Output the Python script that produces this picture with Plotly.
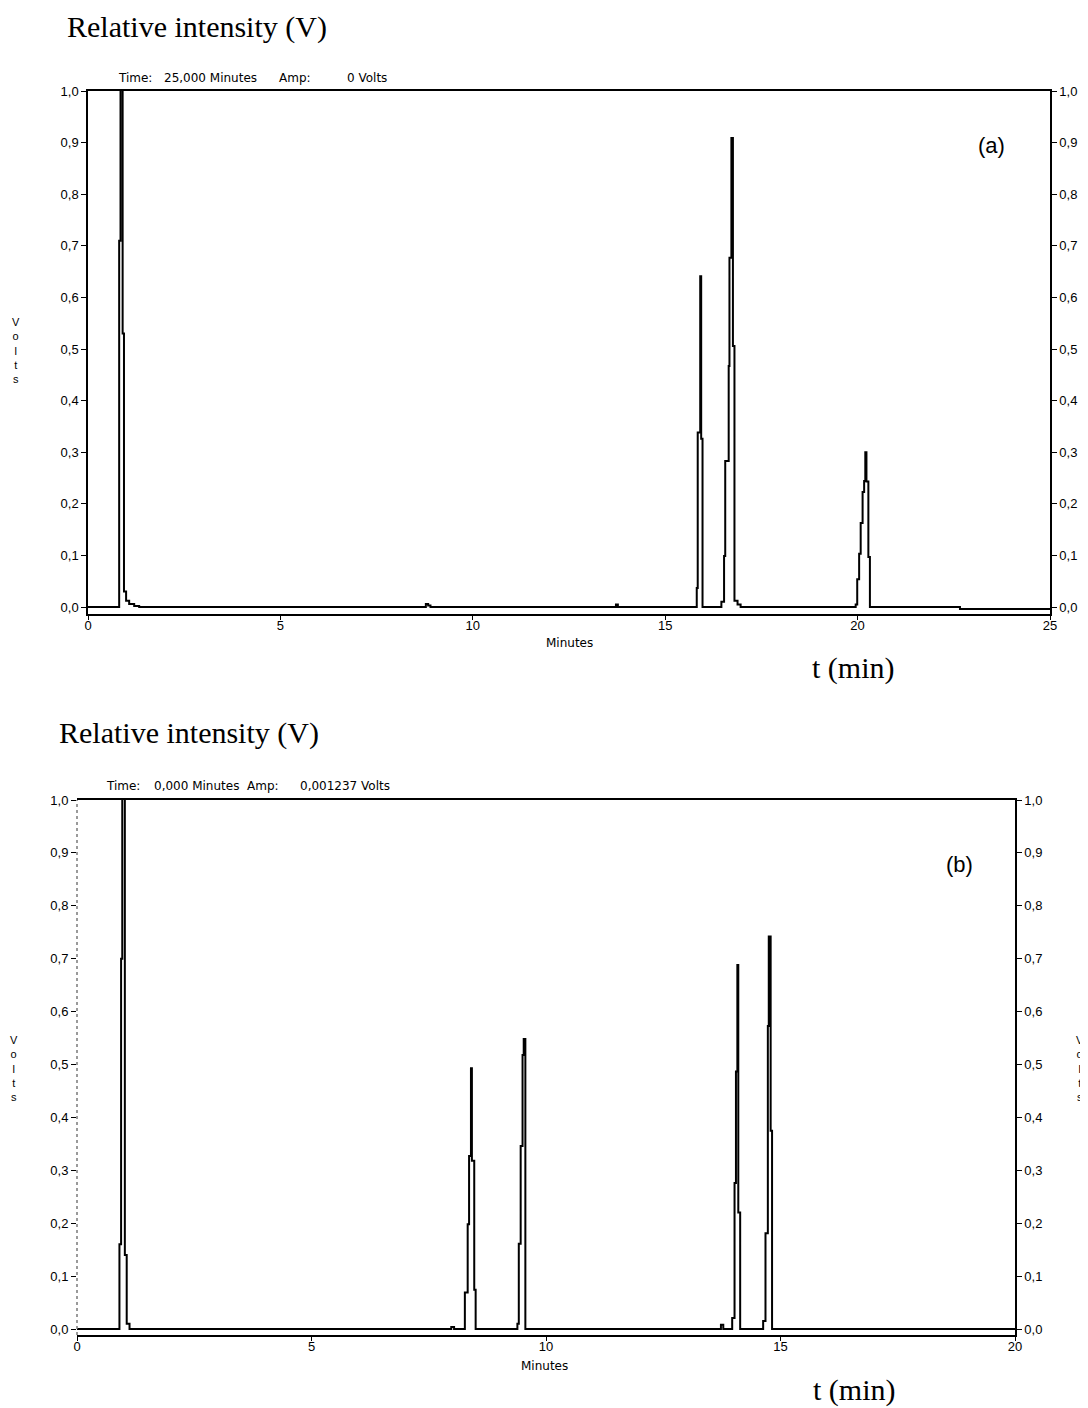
import plotly.graph_objects as go

W, H = 1088, 1408
OFF = 8  # the page body adds an 8px margin around the figure

# ---------------- data ----------------
# Chromatogram (a): time in minutes, detector signal in volts (step trace)
T_A = [0.0, 0.81, 0.845, 0.90, 0.935, 0.99, 1.07, 1.20, 1.33,
       8.78, 8.84, 8.90, 13.72, 13.77,
       15.82, 15.845, 15.91, 15.935, 15.97,
       16.46, 16.53, 16.56, 16.65, 16.67, 16.72, 16.76, 16.80, 16.88, 16.96,
       19.95, 19.99, 20.04, 20.08, 20.13, 20.17, 20.20, 20.23, 20.28, 20.32,
       22.66, 25.0]
V_A = [0.0, 0.71, 1.2, 0.53, 0.03, 0.012, 0.006, 0.002, 0.0,
       0.006, 0.003, 0.0, 0.005, 0.0,
       0.037, 0.338, 0.641, 0.326, 0.0,
       0.01, 0.099, 0.283, 0.467, 0.677, 0.909, 0.506, 0.012, 0.005, 0.0,
       0.005, 0.054, 0.103, 0.163, 0.223, 0.244, 0.300, 0.243, 0.097, 0.0,
       -0.004, -0.004]

# Chromatogram (b)
T_B = [0.0, 0.905, 0.94, 0.965, 1.02, 1.06, 1.12,
       7.98, 8.04,
       8.27, 8.33, 8.36, 8.40, 8.42, 8.47, 8.50,
       9.39, 9.42, 9.46, 9.50, 9.525, 9.56,
       13.73, 13.78,
       13.97, 14.02, 14.05, 14.08, 14.10, 14.14,
       14.63, 14.68, 14.73, 14.75, 14.79, 14.82, 20.0]
V_B = [0.0, 0.16, 0.70, 1.2, 0.14, 0.01, 0.0,
       0.004, 0.0,
       0.069, 0.198, 0.327, 0.493, 0.318, 0.074, 0.0,
       0.01, 0.161, 0.346, 0.518, 0.548, 0.0,
       0.008, 0.0,
       0.021, 0.276, 0.487, 0.688, 0.22, 0.0,
       0.015, 0.181, 0.573, 0.742, 0.375, 0.0, 0.0]

X_RANGE_A = [0, 25]
X_RANGE_B = [0, 20]
Y_TICKS = [0.0, 0.1, 0.2, 0.3, 0.4, 0.5, 0.6, 0.7, 0.8, 0.9, 1.0]
HEADER_A = ["Time:", "25,000 Minutes", "Amp:", "0 Volts"]
HEADER_B = ["Time:", "0,000 Minutes", "Amp:", "0,001237 Volts"]
Y_TITLE = "Relative intensity (V)"
X_TITLE = "t (min)"
PANEL_LABELS = ["(a)", "(b)"]

# ---------------- layout helpers (page pixels -> paper fractions) ----------------
def fx(p):
    return (p - OFF) / W

def fy(p):
    return 1 - (p - OFF) / H

SANS = "Liberation Sans, Arial, sans-serif"
WIDE = "DejaVu Sans, Verdana, sans-serif"
SERIF = "Liberation Serif, Times New Roman, serif"
tickfont = dict(family=SANS, size=13, color="black")

fig = go.Figure()
line = dict(color="black", width=2, shape="hv")
ghost = dict(color="rgba(0,0,0,0)", width=0, shape="hv")
fig.add_trace(go.Scatter(x=T_A, y=V_A, mode="lines", line=line,
                         xaxis="x", yaxis="y", showlegend=False, hoverinfo="skip"))
fig.add_trace(go.Scatter(x=T_A, y=V_A, mode="lines", line=ghost,
                         xaxis="x", yaxis="y2", showlegend=False, hoverinfo="skip"))
fig.add_trace(go.Scatter(x=T_B, y=V_B, mode="lines", line=line,
                         xaxis="x2", yaxis="y3", showlegend=False, hoverinfo="skip"))
fig.add_trace(go.Scatter(x=T_B, y=V_B, mode="lines", line=ghost,
                         xaxis="x2", yaxis="y4", showlegend=False, hoverinfo="skip"))

# panel geometry in page pixels
A = dict(l=88, r=1050, t=91, b=614, zero=607)
B = dict(l=77, r=1015, t=800, b=1335, zero=1329)

def yrange(g):
    scale = g["zero"] - g["t"]
    return [-(g["b"] - g["zero"]) / scale, 1.0]

common_y = dict(tickvals=Y_TICKS, tickformat=".1f", ticks="outside", ticklen=5, tickwidth=1,
                tickcolor="black", showline=True, linecolor="black", linewidth=1.5,
                showgrid=False, zeroline=False, tickfont=tickfont, automargin=False)
common_x = dict(ticks="outside", ticklen=4, tickwidth=1, tickcolor="black", showline=True,
                linecolor="black", linewidth=1.5, mirror=True, showgrid=False, zeroline=False,
                tickfont=tickfont, dtick=5, tick0=0, automargin=False, ticklabelstandoff=-5)

fig.update_layout(
    template="none",
    width=W, height=H, autosize=False, margin=dict(l=0, r=0, t=0, b=0, pad=0),
    paper_bgcolor="white", plot_bgcolor="white", separators=",.",
    xaxis=dict(domain=[fx(A["l"]), fx(A["r"])], range=X_RANGE_A, anchor="y", **common_x),
    yaxis=dict(domain=[fy(A["b"]), fy(A["t"])], range=yrange(A), anchor="x", side="left", **common_y),
    yaxis2=dict(range=yrange(A), overlaying="y", anchor="x", side="right", **common_y),
    xaxis2=dict(domain=[fx(B["l"]), fx(B["r"])], range=X_RANGE_B, anchor="y3", **common_x),
    yaxis3=dict(domain=[fy(B["b"]), fy(B["t"])], range=yrange(B), anchor="x2", side="left", **common_y),
    yaxis4=dict(range=yrange(B), overlaying="y3", anchor="x2", side="right", **common_y),
)
# bottom-left axis is a dotted grey line in the reference
fig.update_layout(yaxis3=dict(showline=False))
fig.add_shape(type="line", xref="paper", yref="paper",
              x0=fx(B["l"]), x1=fx(B["l"]), y0=fy(B["b"]), y1=fy(B["t"]),
              line=dict(color="#7a7a7a", width=1.5, dash="dot"), layer="above")

ann = []
def text(x, y, s, size=11, family=SANS, xanchor="left", yanchor="middle"):
    ann.append(dict(x=fx(x), y=fy(y), xref="paper", yref="paper", text=s, showarrow=False,
                    xanchor=xanchor, yanchor=yanchor, font=dict(family=family, size=size, color="black")))

# serif titles
text(65, 27, Y_TITLE, size=30, family=SERIF)
text(810, 668, X_TITLE, size=30, family=SERIF)
text(57, 733, Y_TITLE, size=30, family=SERIF)
text(811, 1390, X_TITLE, size=30, family=SERIF)

# header lines
for xs, s in zip([116, 162, 277, 345], HEADER_A):
    text(xs, 78, s, size=12, family=WIDE)
for xs, s in zip([104, 152, 245, 298], HEADER_B):
    text(xs, 786, s, size=12, family=WIDE)

# axis titles "Minutes"
text(569, 643, "Minutes", size=12, family=WIDE, xanchor="center")
text(544, 1366, "Minutes", size=12, family=WIDE, xanchor="center")

# vertical "Volts"
volts = "V<br>o<br>l<br>t<br>s"
text(16, 350, volts, size=11, xanchor="center")
text(8, 1068, volts, size=11, xanchor="left")
text(1080, 1068, volts, size=11, xanchor="center")

# panel labels
text(991, 145, PANEL_LABELS[0], size=22, xanchor="center")
text(959, 864, PANEL_LABELS[1], size=22, xanchor="center")

fig.update_layout(annotations=ann)
fig.write_html("out.html")
